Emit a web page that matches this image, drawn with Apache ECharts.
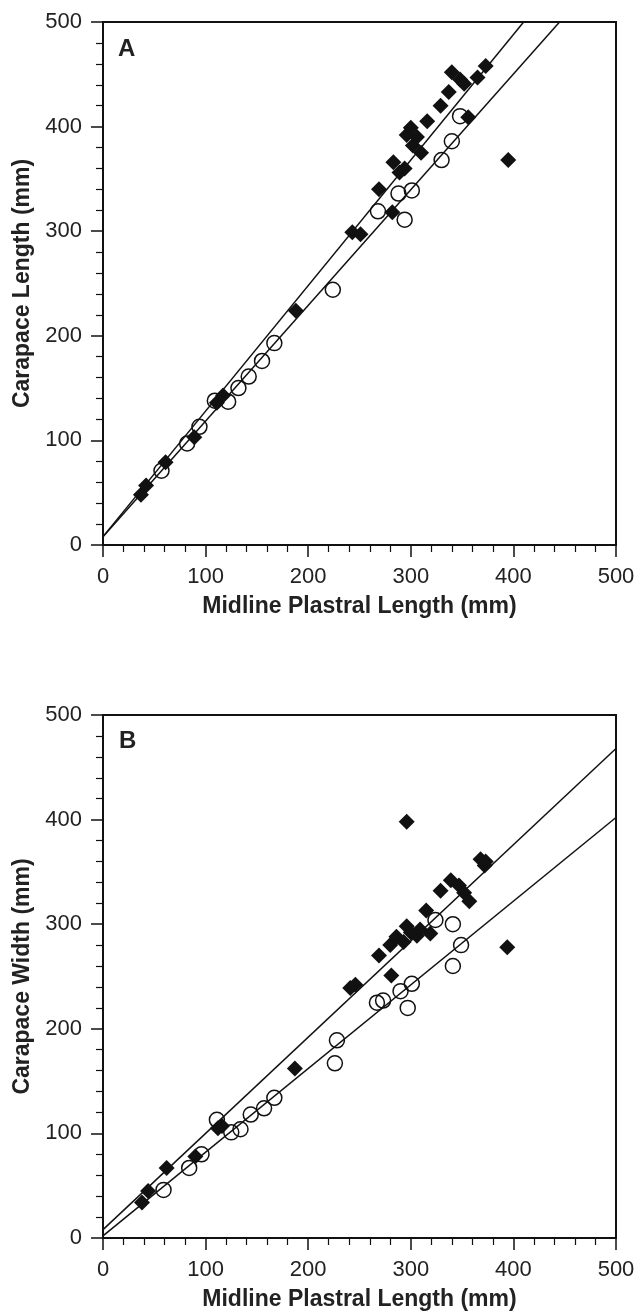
<!DOCTYPE html>
<html><head><meta charset="utf-8">
<script src="https://cdn.jsdelivr.net/npm/echarts@6/dist/echarts.min.js"></script>
<style>html,body{margin:0;padding:0;background:#fff}#c{width:639px;height:1315px}</style>
</head><body><div id="c"></div>
<script>
// ---- data ----
const axisMin = 0, axisMax = 500, majorStep = 100;
const panelLetters = ['A', 'B'];
const xTitle = 'Midline Plastral Length (mm)';
const yTitles = ['Carapace Length (mm)', 'Carapace Width (mm)'];

// Panel A: carapace length vs midline plastral length
const aDiamonds = [
  [37,48],[42,57],[61,79],[89,103],[111,136],[117,143],[188,224],
  [243,299],[251,297],[269,340],[282,318],[283,366],[289,356],[294,360],
  [296,392],[300,399],[302,382],[306,390],[310,375],[316,405],[329,420],
  [337,433],[340,452],[348,445],[352,441],[356,409],[365,447],[373,458],[395,368]
];
const aCircles = [
  [57,71],[82,97],[94,113],[109,138],[122,137],[132,150],[142,161],[155,176],
  [167,193],[224,244],[268,319],[288,336],[294,311],[301,339],[330,368],[340,386],[348,410]
];
const aFitDiamonds = [[0,8],[410,500]];
const aFitCircles = [[0,8],[445,500]];

// Panel B: carapace width vs midline plastral length
const bDiamonds = [
  [38,34],[44,45],[62,67],[90,78],[112,105],[116,107],[187,162],
  [241,239],[246,242],[269,270],[280,280],[281,251],[286,288],[293,283],
  [296,298],[296,398],[300,292],[306,289],[309,295],[315,313],[319,291],
  [329,332],[339,342],[347,337],[352,330],[357,322],[368,362],[372,356],[373,360],[394,278]
];
const bCircles = [
  [59,46],[84,67],[96,80],[111,113],[125,101],[134,104],[144,118],[157,124],
  [167,134],[226,167],[228,189],[267,225],[273,227],[290,236],[297,220],[301,243],
  [324,304],[341,300],[341,260],[349,280]
];
const bFitDiamonds = [[0,8],[500,468]];
const bFitCircles = [[0,2],[500,402]];

// ---- chart ----
const FONT = '"Liberation Sans", Arial, Helvetica, sans-serif';
const INK = '#111';
const chart = echarts.init(document.getElementById('c'), null, {renderer: 'canvas'});

const grids = [
  {left: 103, top: 22, width: 513, height: 523},
  {left: 103, top: 715, width: 513, height: 523}
].map(g => Object.assign(g, {show: true, borderColor: INK, borderWidth: 2, backgroundColor: 'transparent', containLabel: false, outerBoundsMode: 'none'}));

function axisCommon() {
  return {
    type: 'value', min: axisMin, max: axisMax, interval: majorStep,
    nameLocation: 'middle',
    nameTextStyle: {fontFamily: FONT, fontSize: 23, fontWeight: 'bold', color: '#222'},
    axisLine: {show: true, onZero: false, lineStyle: {color: INK, width: 2}},
    axisTick: {show: true, inside: false, length: 12, lineStyle: {color: INK, width: 1.5}},
    minorTick: {show: true, splitNumber: 5, length: 7, lineStyle: {color: INK, width: 1.2}},
    splitLine: {show: false},
    minorSplitLine: {show: false},
    axisLabel: {margin: 21, fontFamily: FONT, fontSize: 22, color: '#222'}
  };
}
const xAxes = [0, 1].map(i => Object.assign(axisCommon(), {gridIndex: i, name: xTitle, nameGap: 50}));
const yAxes = [0, 1].map(i => Object.assign(axisCommon(), {gridIndex: i, name: yTitles[i], nameGap: 63, nameRotate: 90}));

function panelSeries(i, diamonds, circles, fitD, fitC) {
  return [
    {type: 'line', xAxisIndex: i, yAxisIndex: i, data: fitD, symbol: 'none', silent: true, z: 2,
     lineStyle: {color: INK, width: 1.5}},
    {type: 'line', xAxisIndex: i, yAxisIndex: i, data: fitC, symbol: 'none', silent: true, z: 2,
     lineStyle: {color: INK, width: 1.5}},
    {type: 'scatter', xAxisIndex: i, yAxisIndex: i, data: circles, symbol: 'circle', symbolSize: 15, z: 3,
     itemStyle: {color: 'rgba(255,255,255,0)', borderColor: INK, borderWidth: 1.5, opacity: 1}},
    {type: 'scatter', xAxisIndex: i, yAxisIndex: i, data: diamonds, symbol: 'diamond', symbolSize: 16, z: 4,
     itemStyle: {color: INK, opacity: 1}}
  ];
}

chart.setOption({
  animation: false,
  backgroundColor: '#fff',
  grid: grids,
  xAxis: xAxes,
  yAxis: yAxes,
  series: [
    ...panelSeries(0, aDiamonds, aCircles, aFitDiamonds, aFitCircles),
    ...panelSeries(1, bDiamonds, bCircles, bFitDiamonds, bFitCircles)
  ],
  graphic: [
    {type: 'text', left: 118, top: 37, style: {text: panelLetters[0], font: 'bold 24px ' + FONT, fill: '#222'}},
    {type: 'text', left: 119, top: 729, style: {text: panelLetters[1], font: 'bold 24px ' + FONT, fill: '#222'}}
  ]
});
</script></body></html>
